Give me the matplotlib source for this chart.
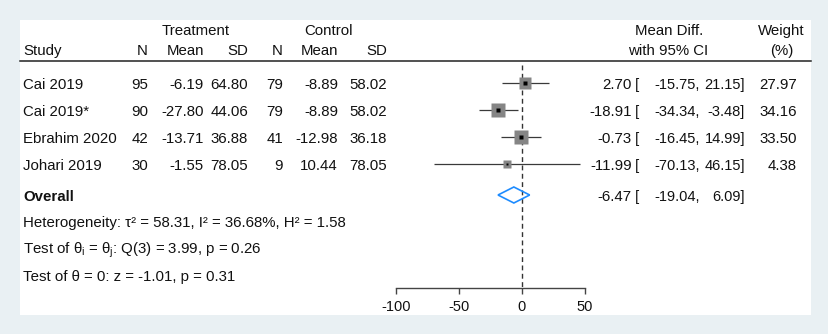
import matplotlib
matplotlib.use('Agg')
import matplotlib.pyplot as plt
from matplotlib.patches import Rectangle, Polygon
import numpy as np

plt.rcParams['font.family'] = ['Liberation Sans', 'DejaVu Sans']
plt.rcParams['mathtext.fontset'] = 'custom'
plt.rcParams['mathtext.rm'] = 'Liberation Sans'
plt.rcParams['mathtext.it'] = 'Liberation Sans:italic'

studies = ['Cai 2019', 'Cai 2019*', 'Ebrahim 2020', 'Johari 2019']
n_t = [95, 90, 42, 30]
mean_t = [-6.19, -27.80, -13.71, -1.55]
sd_t = [64.80, 44.06, 36.88, 78.05]
n_c = [79, 79, 41, 9]
mean_c = [-8.89, -8.89, -12.98, 10.44]
sd_c = [58.02, 58.02, 36.18, 78.05]
md = [2.70, -18.91, -0.73, -11.99]
ci_lo = [-15.75, -34.34, -16.45, -70.13]
ci_hi = [21.15, -3.48, 14.99, 46.15]
weight = [27.97, 34.16, 33.50, 4.38]
overall = [-6.47, -19.04, 6.09]
xticks = [-100, -50, 0, 50]
stats_lines = [
    'Heterogeneity: τ² = 58.31, I² = 36.68%, H² = 1.58',
    r'Test of θ$_\mathrm{i}$ = θ$_\mathrm{j}$: Q(3) = 3.99, p = 0.26',
    'Test of θ = 0: z = -1.01, p = 0.31',
]

W, H = 829, 334
fs = 10.8
txt = '#111111'

fig = plt.figure(figsize=(W / 100, H / 100), dpi=100, facecolor='#e9f0f3')
bg = fig.add_axes([0, 0, 1, 1])
bg.set_xlim(0, W)
bg.set_ylim(H, 0)
bg.axis('off')
bg.add_patch(Rectangle((20, 20), 791, 295, facecolor='white', edgecolor='none'))


def put(x, y, s, ha='left', **kw):
    bg.text(x, y, s, ha=ha, va='baseline', fontsize=kw.pop('size', fs), color=txt, **kw)


# headers
put(196, 35, 'Treatment', 'center')
put(329, 35, 'Control', 'center')
put(669, 35, 'Mean Diff.', 'center')
put(781, 35, 'Weight', 'center')
put(23, 55, 'Study')
col_right = [148, 204, 248, 283, 338, 387]
for x, lab in zip(col_right, ['N', 'Mean', 'SD', 'N', 'Mean', 'SD']):
    put(x, 55, lab, 'right')
put(668, 55, 'with 95% CI', 'center')
put(782, 55, '(%)', 'center')
bg.plot([20, 811], [61, 61], color='#222222', lw=1.1)

row_y = [83 + 27 * i for i in range(len(studies))]
ov_y = 195
cs = 10.5  # CI text a touch tighter
for i, y in enumerate(row_y):
    b = y + 6
    put(23, b, studies[i])
    vals = [str(n_t[i]), f'{mean_t[i]:.2f}', f'{sd_t[i]:.2f}',
            str(n_c[i]), f'{mean_c[i]:.2f}', f'{sd_c[i]:.2f}']
    for x, v in zip(col_right, vals):
        put(x, b, v, 'right')
    put(632, b, f'{md[i]:.2f}', 'right')
    put(635, b, '[')
    put(700, b, f'{ci_lo[i]:.2f},', 'right', size=cs)
    put(745, b, f'{ci_hi[i]:.2f}]', 'right', size=cs)
    put(797, b, f'{weight[i]:.2f}', 'right')

b = ov_y + 6
put(23, b, 'Overall', fontweight='bold')
put(632, b, f'{overall[0]:.2f}', 'right')
put(635, b, '[')
put(700, b, f'{overall[1]:.2f},', 'right', size=cs)
put(745, b, f'{overall[2]:.2f}]', 'right', size=cs)

for j, s in enumerate(stats_lines):
    put(23, 227 + 27 * j, s)

# forest panel
x0, x1, ytop, ybot = 396, 585, 20, 288
ax = fig.add_axes([x0 / W, (H - ybot) / H, (x1 - x0) / W, (ybot - ytop) / H])
ax.set_facecolor('none')
ax.set_xlim(-100, 50)
ax.set_ylim(ybot, ytop)
for s in ['top', 'left', 'right']:
    ax.spines[s].set_visible(False)
ax.spines['bottom'].set_color('#444444')
ax.spines['bottom'].set_linewidth(1.0)
ax.set_yticks([])
ax.set_xticks(xticks)
ax.set_xticklabels([str(t) for t in xticks], fontsize=10.5, color=txt)
ax.tick_params(axis='x', direction='out', length=4, width=1.0, color='#444444', pad=4.5)

ax.vlines(0, 65, ybot, colors='#333333', lw=1.0, linestyles=(0, (3.5, 2.5)), zorder=1)
ax.hlines(row_y, ci_lo, ci_hi, colors='#3a3a3a', lw=0.9, zorder=2, clip_on=False)
for i, y in enumerate(row_y):
    side_px = max(2.3 * np.sqrt(weight[i]), 7.5)
    ax.plot(md[i], y, marker='s', ms=side_px * 0.72, color='#858585', mec='none', zorder=3)
    ax.plot(md[i], y, marker='s', ms=side_px * 0.72 * 0.33, color='black', mec='none', zorder=4)

dia = Polygon([[overall[1], ov_y], [overall[0], ov_y - 8], [overall[2], ov_y],
               [overall[0], ov_y + 8]], closed=True, facecolor='none',
              edgecolor='#1e8cff', lw=1.2, zorder=3)
ax.add_patch(dia)

fig.savefig('out.png', dpi=100, facecolor=fig.get_facecolor())
